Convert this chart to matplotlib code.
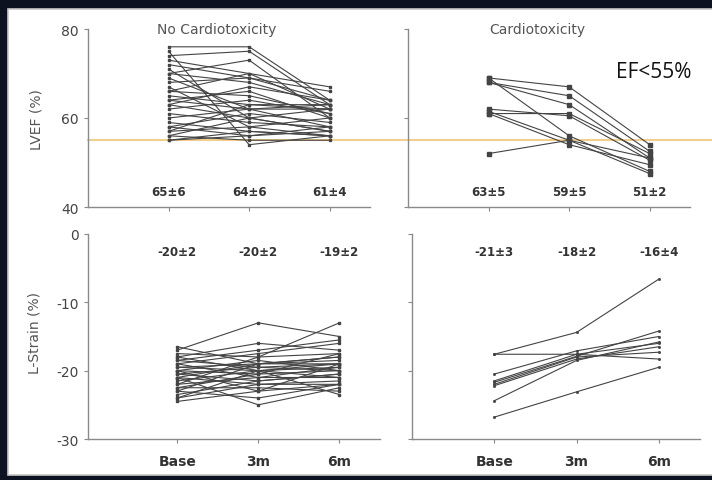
import matplotlib.pyplot as plt
from matplotlib.patches import Rectangle

plt.rcParams["axes.unicode_minus"] = False

# time points
timepoints = ["Base", "3m", "6m"]
xpos = [1, 2, 3]

# LVEF (%), no cardiotoxicity group
nc_ef_base = [76, 75, 74, 73, 72, 71, 70, 70, 69, 68, 67, 66, 66, 65, 64,
              64, 63, 63, 62, 61, 60, 59, 58, 58, 57, 57, 56, 56, 55, 55]
nc_ef_3m = [76, 54, 75, 70, 69, 60, 68, 73, 62, 69, 58, 65, 70, 63, 62,
            66, 60, 67, 64, 59, 62, 57, 61, 56, 58, 63, 55, 60, 57, 56]
nc_ef_6m = [64, 56, 63, 62, 66, 57, 63, 60, 58, 64, 56, 61, 67, 62, 63,
            60, 57, 64, 61, 58, 62, 56, 59, 57, 60, 63, 55, 62, 56, 58]

# LVEF (%), cardiotoxicity group
ct_ef_base = [69, 69, 68, 68, 62, 61.5, 61, 61, 52]
ct_ef_3m = [67, 56, 65, 63, 60.5, 55, 61, 54, 55]
ct_ef_6m = [54, 48, 52.5, 51, 50.5, 47.5, 52, 49.5, 51]

# L-Strain (%), no cardiotoxicity group
nc_ls_base = [-16.5, -17, -17.5, -18, -18, -18.5, -19, -19, -19.5, -19.5,
              -20, -20, -20, -20.5, -20.5, -21, -21, -21, -21.5, -22,
              -22, -22.5, -22.5, -23, -23, -23.5, -24, -24, -24.5, -18.5]
nc_ls_3m = [-19, -13, -18, -16, -20, -19.5, -17.5, -21, -19, -20,
            -23, -18.5, -20.5, -19.5, -21.5, -22, -25, -19, -20, -21,
            -18, -20.5, -22.5, -19, -24, -21.5, -20, -22, -23, -17]
nc_ls_6m = [-18, -15, -13, -17, -19, -20, -16, -19.5, -18.5, -21,
            -19, -20, -17.5, -19, -20.5, -22, -22.5, -18, -19.5, -21,
            -17.5, -20, -23, -19, -22, -20.5, -23.5, -21.5, -22, -15.5]

# L-Strain (%), cardiotoxicity group
ct_ls_base = [-17.6, -17.6, -20.5, -21.7, -22.2, -22.0, -24.4, -26.8, -21.5]
ct_ls_3m = [-14.4, -17.6, -17.1, -17.9, -18.3, -18.0, -18.5, -23.1, -17.6]
ct_ls_6m = [-6.6, -16.0, -15.0, -14.2, -16.5, -17.3, -15.8, -19.5, -18.3]

# mean +/- sd annotations
nc_ef_labels = ["65\u00b16", "64\u00b16", "61\u00b14"]
ct_ef_labels = ["63\u00b15", "59\u00b15", "51\u00b12"]
nc_ls_labels = ["-20\u00b12", "-20\u00b12", "-19\u00b12"]
ct_ls_labels = ["-21\u00b13", "-18\u00b12", "-16\u00b14"]

W, H = 712, 481
fig = plt.figure(figsize=(W / 100, H / 100), dpi=100)
fig.patch.set_facecolor("#0c1220")
fig.add_artist(Rectangle((8 / W, 5 / H), 1.0, (471 - 5) / H, transform=fig.transFigure,
                         facecolor="white", edgecolor="#c8c8c8", lw=1.2, zorder=-5))


def make_ax(left, right, top, bottom):
    ax = fig.add_axes([left / W, 1 - bottom / H, (right - left) / W, (bottom - top) / H])
    ax.set_facecolor("none")
    for s in ["top", "right"]:
        ax.spines[s].set_visible(False)
    for s in ["left", "bottom"]:
        ax.spines[s].set_color("#8a8a8a")
        ax.spines[s].set_linewidth(1.0)
    ax.tick_params(colors="#8a8a8a", labelcolor="#444444", length=3, labelsize=10)
    ax.set_xticks(xpos)
    return ax


def spaghetti(ax, a, b, c, marker_size=2):
    for i in range(len(a)):
        ax.plot(xpos, [a[i], b[i], c[i]], "-", color="#444444", lw=0.8,
                marker="s", ms=marker_size, mfc="#444444", mec="#444444")


ax_tl = make_ax(88, 370, 30, 208)
ax_tr = make_ax(408, 690, 30, 208)
ax_bl = make_ax(88, 380, 235, 440)
ax_br = make_ax(412, 700, 235, 440)

for ax in (ax_tl, ax_tr):
    ax.set_ylim(40, 80)
    ax.set_yticks([40, 60, 80])
    ax.set_xlim(0, 3.5)
    ax.set_xticklabels([])
for ax in (ax_bl, ax_br):
    ax.set_ylim(-30, 0)
    ax.set_yticks([-30, -20, -10, 0])
    ax.set_xticklabels(timepoints, fontweight="bold", fontsize=10, color="#333333")
    ax.tick_params(axis="x", pad=8)
ax_bl.set_xlim(-0.1, 3.5)
ax_br.set_xlim(0, 3.5)
ax_tr.set_yticklabels([])
ax_br.set_yticklabels([])

spaghetti(ax_tl, nc_ef_base, nc_ef_3m, nc_ef_6m, 1.5)
spaghetti(ax_tr, ct_ef_base, ct_ef_3m, ct_ef_6m, 2.5)
spaghetti(ax_bl, nc_ls_base, nc_ls_3m, nc_ls_6m, 1.5)
spaghetti(ax_br, ct_ls_base, ct_ls_3m, ct_ls_6m, 1)

for ax, labels, y in [(ax_tl, nc_ef_labels, 43.5), (ax_tr, ct_ef_labels, 43.5),
                      (ax_bl, nc_ls_labels, -2.6), (ax_br, ct_ls_labels, -2.6)]:
    for x, t in zip(xpos, labels):
        ax.text(x, y, t, ha="center", va="center", fontsize=8.5,
                fontweight="bold", color="#333333")

ax_tl.text(1.6, 80, "No Cardiotoxicity", ha="center", va="center",
           fontsize=10, color="#555555")
ax_tr.text(1.6, 80, "Cardiotoxicity", ha="center", va="center",
           fontsize=10, color="#555555")

# EF threshold line across both top panels
ax_tl.axhline(55, xmin=0, xmax=(712 - 88) / 282, color="#f3cf8c", lw=1.5,
              clip_on=False, zorder=0)
fig.text(616 / W, 1 - 72 / H, "EF<55%", ha="left", va="center",
         fontsize=15, color="#111111", family="Open Sans")

fig.text(36 / W, 1 - 120 / H, "LVEF (%)", rotation=90, ha="center",
         va="center", fontsize=10, color="#555555")
fig.text(34 / W, 1 - 333 / H, "L-Strain (%)", rotation=90, ha="center",
         va="center", fontsize=10, color="#555555")

fig.savefig("out.png", dpi=100, facecolor=fig.get_facecolor())
